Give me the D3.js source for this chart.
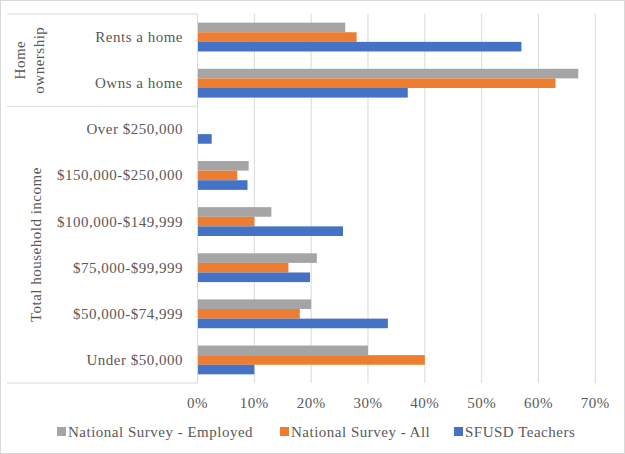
<!DOCTYPE html>
<html>
<head>
<meta charset="utf-8">
<script src="https://cdn.jsdelivr.net/npm/d3@7"></script>
</head>
<body style="margin:0;background:#fff">
<div id="chart"></div>
<script>
// categories, top to bottom
const categories = ['Rents a home', 'Owns a home', 'Over $250,000', '$150,000-$250,000',
  '$100,000-$149,999', '$75,000-$99,999', '$50,000-$74,999', 'Under $50,000']
const groups = [
  { name: ['Home', 'ownership'], from: 0, to: 2 },
  { name: ['Total household income'], from: 2, to: 8 }
]
const seriesNames = ['National Survey - Employed', 'National Survey - All', 'SFUSD Teachers']
const colors = ['#A5A5A5', '#ED7D31', '#4472C4']
const employed = [26, 67, 0, 9, 13, 21, 20, 30]
const all = [28, 63, 0, 7, 10, 16, 18, 40]
const teachers = [57, 37, 2.5, 8.8, 25.6, 19.8, 33.5, 10]
const xTicks = [0, 10, 20, 30, 40, 50, 60, 70]

const width = 625, height = 454
const plotL = 197.5, plotR = 595.3, plotT = 14, plotB = 383
const font = 'Liberation Serif'
const textColor = '#595959'

const svg = d3.select('#chart').append('svg')
  .attr('width', width).attr('height', height)

svg.append('rect')
  .attr('x', 0.5).attr('y', 0.5)
  .attr('width', width - 1).attr('height', height - 1)
  .attr('fill', '#fff').attr('stroke', '#D9D9D9')

const x = d3.scaleLinear().domain([0, 70]).range([plotL, plotR])
const y = d3.scaleBand().domain(categories).range([plotT, plotB])
  .paddingInner(0.375).paddingOuter(0.1875)
const ySub = d3.scaleBand().domain(d3.range(3)).range([0, y.bandwidth()])

function label(sel) {
  return sel.attr('font-family', font)
    .attr('font-size', 15)
    .attr('letter-spacing', 0.5)
    .attr('fill', textColor)
}

// gridlines
svg.append('g')
  .selectAll('line')
  .data(xTicks.slice(1))
  .join('line')
  .attr('x1', d => x(d)).attr('x2', d => x(d))
  .attr('y1', plotT).attr('y2', plotB)
  .attr('stroke', '#D9D9D9').attr('stroke-width', 1)

// bars
const values = [employed, all, teachers]
values.forEach((vals, s) => {
  svg.append('g')
    .selectAll('rect')
    .data(vals)
    .join('rect')
    .attr('x', x(0))
    .attr('y', (d, i) => y(categories[i]) + ySub(s))
    .attr('width', d => x(d) - x(0))
    .attr('height', ySub.bandwidth())
    .attr('fill', colors[s])
})

// x axis labels
svg.append('g')
  .selectAll('text')
  .data(xTicks)
  .join('text')
  .attr('x', d => x(d))
  .attr('y', 408)
  .attr('text-anchor', 'middle')
  .call(label)
  .text(d => d + '%')

// category axis
svg.append('line')
  .attr('x1', plotL).attr('x2', plotL).attr('y1', plotT).attr('y2', plotB)
  .attr('stroke', '#D9D9D9')

const boundaries = [plotT, y(categories[2]) - y.step() * y.paddingInner() / 2, plotB]
svg.append('g')
  .selectAll('line')
  .data(boundaries)
  .join('line')
  .attr('x1', 7).attr('x2', plotL)
  .attr('y1', d => d).attr('y2', d => d)
  .attr('stroke', '#D9D9D9')

svg.append('g')
  .selectAll('text')
  .data(categories)
  .join('text')
  .attr('x', 183)
  .attr('y', d => y(d) + y.bandwidth() / 2 + 5)
  .attr('text-anchor', 'end')
  .call(label)
  .text(d => d)

// group labels, rotated
groups.forEach((g, gi) => {
  const cy = (boundaries[gi] + boundaries[gi + 1]) / 2
  const lh = 19
  const cx = g.name.length > 1 ? 34 : 41
  g.name.forEach((line, li) => {
    const off = (li - (g.name.length - 1) / 2) * lh
    svg.append('text')
      .attr('transform', `translate(${cx + off},${cy}) rotate(-90)`)
      .attr('text-anchor', 'middle')
      .call(label)
      .text(line)
  })
})

// legend
const legendX = [57, 280, 454]
const legend = svg.append('g')
seriesNames.forEach((n, i) => {
  legend.append('rect')
    .attr('x', legendX[i]).attr('y', 427)
    .attr('width', 9).attr('height', 9)
    .attr('fill', colors[i])
  legend.append('text')
    .attr('x', legendX[i] + 11).attr('y', 437)
    .call(label)
    .text(n)
})
</script>
</body>
</html>
